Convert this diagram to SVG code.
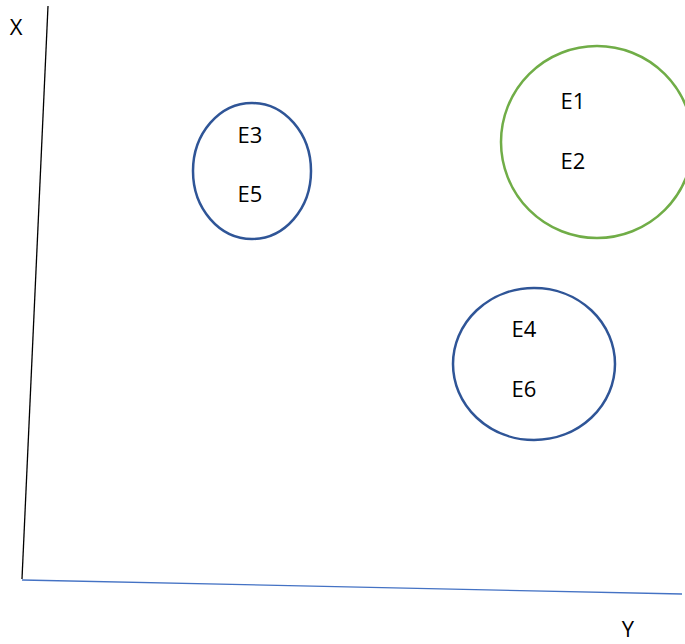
<svg xmlns="http://www.w3.org/2000/svg" width="685" height="644" viewBox="0 0 685 644">
  <style>
    .lbl { font-family: "Open Sans", "Liberation Sans", sans-serif; font-size: 22px; fill: #000; text-anchor: middle; }
    .ring { fill: none; stroke-width: 2.5; }
    .blue { stroke: #2F5597; }
    .green { stroke: #70AD47; }
  </style>
  <rect width="685" height="644" fill="#fff"/>
  <g id="axes">
    <line x1="48" y1="6" x2="22" y2="579" stroke="#000" stroke-width="1.3"/>
    <line x1="22" y1="580" x2="682" y2="594" stroke="#4472C4" stroke-width="1.3"/>
    <text class="lbl" x="16" y="35">X</text>
    <text class="lbl" x="628" y="637">Y</text>
  </g>
  <g id="cluster-e1-e2">
    <circle class="ring green" cx="597" cy="142" r="96"/>
    <text class="lbl" x="573" y="109">E1</text>
    <text class="lbl" x="573" y="169">E2</text>
  </g>
  <g id="cluster-e3-e5">
    <ellipse class="ring blue" cx="252" cy="171" rx="59" ry="68"/>
    <text class="lbl" x="250" y="143">E3</text>
    <text class="lbl" x="250" y="202">E5</text>
  </g>
  <g id="cluster-e4-e6">
    <ellipse class="ring blue" cx="534" cy="364" rx="81" ry="76"/>
    <text class="lbl" x="524" y="337">E4</text>
    <text class="lbl" x="524" y="397">E6</text>
  </g>
</svg>
